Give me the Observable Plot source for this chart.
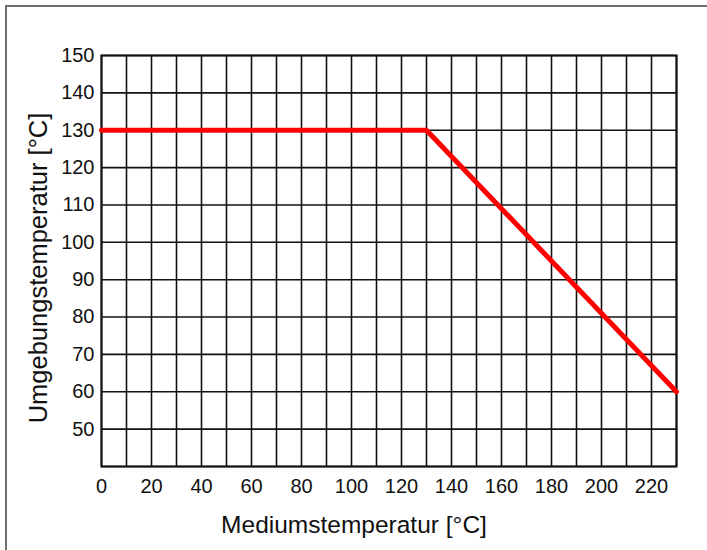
<!DOCTYPE html>
<html>
<head>
<meta charset="utf-8">
<script src="https://cdn.jsdelivr.net/npm/d3@7"></script>
<script src="https://cdn.jsdelivr.net/npm/@observablehq/plot@0.6"></script>
<style>
  html, body { margin: 0; padding: 0; background: #fff; overflow: hidden; }
  #wrap { position: relative; width: 707px; height: 550px; overflow: hidden; }
  #border { position: absolute; left: 5px; top: 5px; width: 800px; height: 800px;
            border-left: 2px solid #707070; border-top: 2px solid #707070; pointer-events: none; }
  #chart { position: absolute; left: 0; top: 0; }
</style>
</head>
<body>
<div id="wrap"><div id="chart"></div><div id="border"></div></div>
<script>
// Data
const mediumTemp = [0, 130, 230];        // Mediumstemperatur [°C]
const ambientTemp = [130, 130, 60];      // Umgebungstemperatur [°C]
const xTicks = [0, 20, 40, 60, 80, 100, 120, 140, 160, 180, 200, 220];
const yTicks = [50, 60, 70, 80, 90, 100, 110, 120, 130, 140, 150];
const xGrid = d3.range(0, 231, 10);
const yGrid = d3.range(40, 151, 10);
const xLabel = "Mediumstemperatur [°C]";
const yLabel = "Umgebungstemperatur [°C]";

const rows = mediumTemp.map((x, i) => ({x, y: ambientTemp[i]}));

const font = "'Liberation Sans', Arial, Helvetica, sans-serif";

const chart = Plot.plot({
  width: 707,
  height: 550,
  marginLeft: 101,
  marginRight: 31,
  marginTop: 55,
  marginBottom: 84,
  style: { fontFamily: font, fontSize: "20px", color: "#111", background: "transparent" },
  x: { domain: [0, 230], ticks: xTicks, tickSize: 0, tickPadding: 12, label: null },
  y: { domain: [40, 150], ticks: yTicks, tickSize: 0, tickPadding: 7, label: null },
  marks: [
    Plot.ruleX(xGrid, { stroke: "#111", strokeWidth: 1.6 }),
    Plot.ruleY(yGrid, { stroke: "#111", strokeWidth: 1.6 }),
    Plot.frame({ stroke: "#111", strokeWidth: 2 }),
    Plot.axisX({ ticks: xTicks, tickSize: 0, tickPadding: 12, fontSize: 20, label: null }),
    Plot.axisY({ ticks: yTicks, tickSize: 0, tickPadding: 7, fontSize: 20, label: null }),
    Plot.line(rows, { x: "x", y: "y", stroke: "#ff0000", strokeWidth: 5, strokeLinejoin: "miter" }),
    Plot.text([xLabel], { frameAnchor: "bottom", dy: 66, dx: -35, fontSize: 24.5, fill: "#111", textAnchor: "middle" }),
    Plot.text([yLabel], { frameAnchor: "left", dx: -63, dy: 7, rotate: -90, fontSize: 25.5, fill: "#111", textAnchor: "middle" })
  ]
});
document.getElementById("chart").appendChild(chart);
</script>
</body>
</html>
